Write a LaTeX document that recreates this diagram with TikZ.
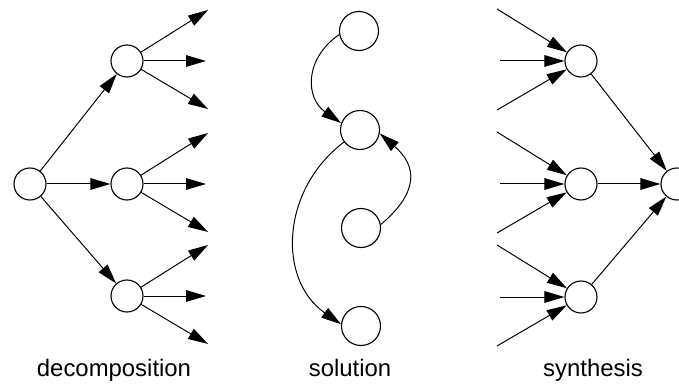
\documentclass[tikz,border=0pt]{standalone}
\usepackage{fontspec}
\setmainfont{Liberation Sans}
\usetikzlibrary{arrows.meta}

\begin{document}
\begin{tikzpicture}[x=1cm,y=1cm,
  vertex/.style={circle,draw,line width=0.8pt,inner sep=0pt,minimum size=0.8cm},
  bigvertex/.style={vertex,minimum size=0.975cm},
  flow/.style={line width=0.7pt,-{Triangle[length=5mm,width=2.9mm]}},
  caption/.style={anchor=base,font=\fontsize{17}{20}\selectfont}]
\path[use as bounding box] (0,0) rectangle (16.975,9.625);
% decomposition
\node[vertex] (D0) at (0.75,5.025) {};
\node[vertex] (D1) at (3.175,8.1) {};
\node[vertex] (D2) at (3.175,5.025) {};
\node[vertex] (D3) at (3.175,2.225) {};
\foreach \k in {1,2,3} {
  \draw[flow] (D0) -- (D\k);
  \path (D\k) ++(2.025,1.275) coordinate (DL\k a);
  \path (D\k) ++(1.975,0) coordinate (DL\k b);
  \path (D\k) ++(2.025,-1.2) coordinate (DL\k c);
  \foreach \s in {a,b,c}
    \draw[flow] (D\k) -- (DL\k\s);
}
% solution
\node[bigvertex] (S1) at (8.975,8.85) {};
\node[bigvertex] (S2) at (9.0,6.375) {};
\node[bigvertex] (S3) at (9.025,3.925) {};
\node[bigvertex] (S4) at (9.025,1.475) {};
\draw[flow] (S1.190) to[out=215,in=145,looseness=1.25] (S2.160);
\draw[flow] (S2.217) to[out=217,in=145,looseness=1.1] (S4.175);
\draw[flow] (S3.10) to[out=40,in=319,looseness=1.4] (S2.350);
% synthesis
\node[vertex] (Y1) at (14.525,8.1) {};
\node[vertex] (Y2) at (14.525,5.025) {};
\node[vertex] (Y3) at (14.525,2.2) {};
\node[vertex] (F) at (16.925,5.025) {};
\foreach \k in {1,2,3} {
  \path (Y\k) ++(-2.1,1.3) coordinate (YI\k a);
  \path (Y\k) ++(-2.025,0) coordinate (YI\k b);
  \path (Y\k) ++(-2.1,-1.225) coordinate (YI\k c);
  \foreach \s in {a,b,c}
    \draw[flow] (YI\k\s) -- (Y\k);
  \draw[flow] (Y\k) -- (F);
}
\node[caption] (capD) at (2.85,0.2) {decomposition};
\node[caption] (capS) at (8.75,0.2) {solution};
\node[caption] (capY) at (14.825,0.2) {synthesis};
\end{tikzpicture}
\end{document}
